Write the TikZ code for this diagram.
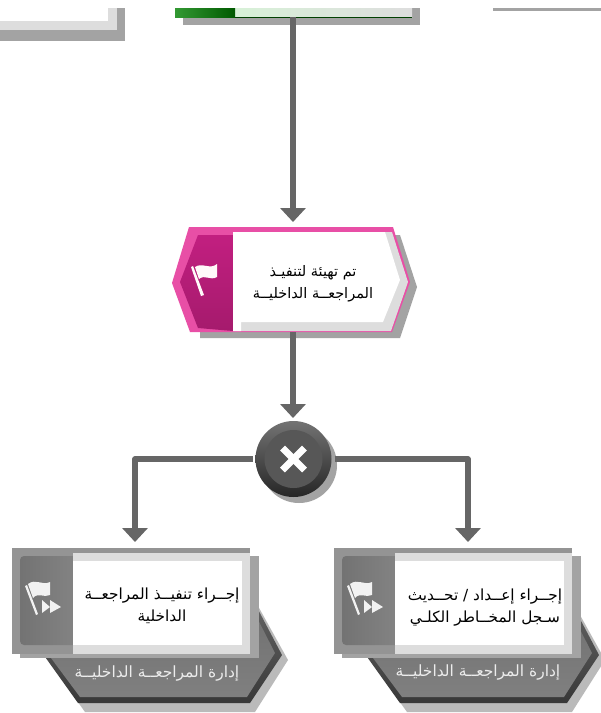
\documentclass[tikz,border=0pt]{standalone}
\usepackage{fontspec}
\usetikzlibrary{arrows.meta,calc}
\newfontfamily\arabicfont[Script=Arabic]{DejaVu Sans}
\TeXXeTstate=1
\definecolor{conn}{HTML}{666666}
\definecolor{shade1}{HTML}{A3A3A3}
\definecolor{pinkA}{HTML}{E84FA6}
\definecolor{pinkB}{HTML}{C21F80}
\definecolor{bevel}{HTML}{DDDDDD}
\tikzset{
  conn line/.style={draw=conn,line width=5.5pt,line join=round,-{Triangle[width=25pt,length=14pt]}},
  ghost/.style={inner sep=0pt,outer sep=0pt,minimum width=#1},
  label text/.style={inner sep=0pt,align=center,font=\arabicfont\fontsize{14.5}{22}\selectfont,text=black},
  task text/.style={inner sep=0pt,align=center,font=\arabicfont\fontsize{15.3}{22}\selectfont,text=black},
  role text/.style={inner sep=0pt,font=\arabicfont\fontsize{15.5}{18}\selectfont,text=white!85!gray},
}
% task box: #1 = x shift, #2 = inward shift of the hexagon's right side
\newcommand{\taskshape}[2]{%
  \begin{scope}[xshift=#1pt]
    % role hexagon with shadow
    \fill[shade1!75!white] (48,660) -- (85,712) -- ({255-#2},712) -- ({288-#2},660) -- ({258-#2},606) -- cycle;
    \shade[top color=black!60,bottom color=black!78] (43,654) -- (78,703) -- ({250-#2},703) -- ({282-#2},655) -- ({252-#2},598) -- cycle;
    \shade[top color=black!56,bottom color=black!50] (48,654) -- (80,697) -- ({247-#2},697) -- ({275-#2},653) -- ({250-#2},604) -- cycle;
    % task card
    \fill[shade1] (20,556) rectangle (259,658);
    \fill[black!42] (12,548) rectangle (250,654);
    \shade[left color=black!55,right color=black!48,rounded corners=4pt] (20,556) rectangle (80,645);
    \fill[bevel] (73,553) rectangle (250,654);
    \fill[white] (73,561) rectangle (242,645);
    % flag icon
    \fill[white!90!gray] (25,586) -- (27,585) -- (38,614) -- (36,615) -- cycle;
    \fill[white!90!gray] (28,584) .. controls (36,578) and (42,586) .. (50,582) -- (50,595)
      .. controls (44,598) and (38,592) .. (33,598) -- cycle;
    \fill[white!90!gray] (42,600) -- (50,607) -- (42,613) -- cycle;
    \fill[white!90!gray] (50,600) -- (61,607) -- (50,613) -- cycle;
  \end{scope}}
\begin{document}
\begin{tikzpicture}[x=1pt,y=-1pt]
\useasboundingbox (0,0) rectangle (601,713);
\fill[white] (0,0) rectangle (601,713);

% clipped shapes at the top edge
\fill[shade1] (0,8) rectangle (125,41);
\fill[bevel] (0,8) rectangle (117,30);
\fill[white] (0,8) rectangle (108,21);
\fill[shade1] (183,8) rectangle (420,25);
\shade[left color=bevel!80!green!50!white,right color=bevel] (235,8) rectangle (412,17);
\shade[left color=green!50!black!80!white,right color=green!35!black] (175,8) rectangle (235,17);
\draw[green!25!black,line width=.7pt] (235,17) -- (412,17);
\fill[shade1] (493,8) rectangle (601,11);

% pink event
\fill[shade1] (200,338) -- (200,240) -- (400,235) -- (417,287) -- (400,338) -- cycle;
\fill[pinkA] (189,227) -- (393,227) -- (410,282) -- (392,332) -- (190,332) -- (172,283) -- cycle;
\fill[bevel] (233,232) -- (392,232) -- (408,282) -- (391,331) -- (233,331) -- cycle;
\shade[top color=pinkB,bottom color=pinkB!85!black] (198,235) -- (233,235) -- (233,331) -- (198,328) -- (180,282) -- cycle;
\fill[white] (233,232) -- (385,232) -- (400,280) -- (383,322) -- (241,322) -- (241,331) -- (233,331) -- cycle;
\fill[white!90!pink] (191,267) -- (193,266) -- (204,295) -- (201,296) -- cycle;
\fill[white!90!pink] (195,267) .. controls (202,262) and (210,270) .. (217,264) -- (217,277)
  .. controls (210,281) and (205,274) .. (199,279) -- cycle;

% tasks
\taskshape{0}{0}
\taskshape{322}{5}

% layout anchors and connector nodes
\node[ghost=237pt,minimum height=9pt] (start) at (293,12.5) {};
\node[ghost=236pt,minimum height=110pt] (event) at (293,277) {};
\node[ghost=230pt,minimum height=112pt] (taskA) at (135,598) {};
\node[ghost=230pt,minimum height=112pt] (taskB) at (468,598) {};

% gateway
\fill[shade1] (299,465) circle (38pt);
\node[circle,minimum size=76pt,inner sep=0pt,outer sep=3pt,top color=black!55,bottom color=black!85,draw=none] (gw) at (293.5,459) {};
\fill[black!66] (gw.center) circle (29pt);
\draw[white,line width=7pt] ($(gw.center)+(-11,-11)$) -- ($(gw.center)+(11,11)$);
\draw[white,line width=7pt] ($(gw.center)+(-11,11)$) -- ($(gw.center)+(11,-11)$);

% connectors
\draw[conn line] (start.south) -- (event.north);
\draw[conn line] (event.south) -- (event.south |- gw.north);
\draw[conn line] (gw.west) -| (taskA.north);
\draw[conn line] (gw.east) -| (taskB.north);

% texts
\node[label text] (t1) at (313,284) {\beginR تم تهيئة لتنفيـذ\endR\\\beginR المراجعــة الداخليــة\endR};
\node[task text] (t2) at (162,606) {\beginR إجــراء تنفيــذ المراجعــة\endR\\\beginR الداخلية\endR};
\node[task text] (t3) at (485,608) {\beginR إجــراء إعــداد / تحــديث\endR\\\beginR سـجل المخــاطر الكلـي\endR};
\node[role text] (r1) at (157,673) {\beginR إدارة المراجعــة الداخليــة\endR};
\node[role text] (r2) at (478,672) {\beginR إدارة المراجعــة الداخليــة\endR};
\end{tikzpicture}
\end{document}
